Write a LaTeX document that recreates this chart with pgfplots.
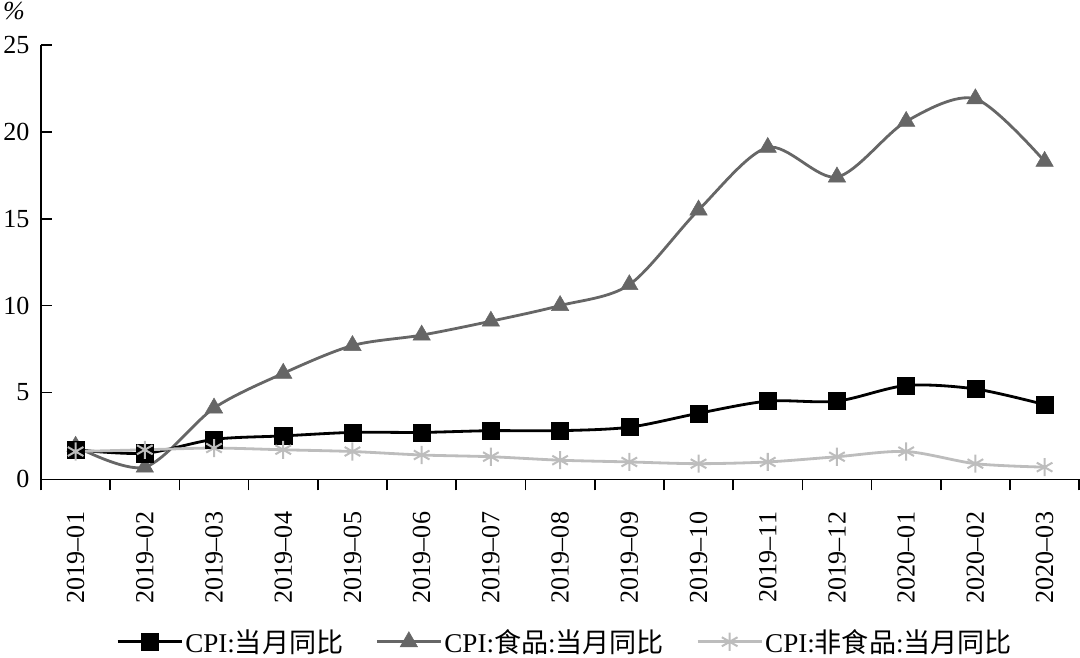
\documentclass[border=0pt]{standalone}
\usepackage{fontspec}
\setmainfont{Liberation Serif}
\newfontfamily\cjk{Noto Sans CJK SC}
\usepackage{pgfplots}
\pgfplotsset{compat=1.18}
\definecolor{foodc}{HTML}{666666}
\definecolor{nonc}{HTML}{BDBDBD}
\pgfplotsset{
 cpistyle/.style={black, line width=2.8pt, smooth, mark=square*, mark size=8.5pt, mark options={solid, line width=0.5pt, fill=black}},
 foodstyle/.style={foodc, line width=2.8pt, smooth, mark=triangle*, mark size=10pt, mark options={solid, line width=0.5pt, fill=foodc}},
 nonstyle/.style={nonc, line width=2.8pt, smooth, mark=asterisk, mark size=9pt, mark options={solid, line width=2pt}},
}
\begin{document}
\begin{tikzpicture}
\begin{axis}[
 scale only axis, width=1035pt, height=433pt,
 xmin=-0.5, xmax=14.5, ymin=0, ymax=25,
 axis x line*=bottom, axis y line*=left,
 axis line style={line width=1.6pt, -},
 xtick={-0.5,0.5,...,14.5},
 x tick label as interval,
 xticklabels={2019--01,2019--02,2019--03,2019--04,2019--05,2019--06,2019--07,2019--08,2019--09,2019--10,2019--11,2019--12,2020--01,2020--02,2020--03},
 ytick={0,5,10,15,20,25},
 xtick align=outside, ytick align=inside,
 major tick length=11pt,
 tick style={line width=1.6pt, black},
 xticklabel style={rotate=90, anchor=east, font=\fontsize{26}{30}\selectfont, xshift=-18pt},
 yticklabel style={font=\fontsize{26}{30}\selectfont, xshift=-8pt},
 /pgf/number format/assume math mode=true,
 legend style={at={(0.5,-0.374)}, anchor=center, xshift=5pt, draw=none, fill=none, font=\fontsize{27}{30}\selectfont, legend columns=3, /tikz/every even column/.append style={column sep=30pt}},
 legend image code/.code={\draw[mark repeat=2,mark phase=2] plot coordinates {(0pt,0pt) (32pt,0pt) (64pt,0pt)};},
 legend cell align=left,
 clip=false,
]
\addlegendimage{cpistyle}
\addlegendentry{CPI:{\cjk 当月同比}}
\addlegendimage{foodstyle}
\addlegendentry{CPI:{\cjk 食品}:{\cjk 当月同比}}
\addlegendimage{nonstyle}
\addlegendentry{CPI:{\cjk 非食品}:{\cjk 当月同比}}

\addplot[foodstyle, forget plot] coordinates {(0,1.9) (1,0.7) (2,4.1) (3,6.1) (4,7.7) (5,8.3) (6,9.1) (7,10.0) (8,11.2) (9,15.5) (10,19.1) (11,17.4) (12,20.6) (13,21.9) (14,18.3)};
\addplot[cpistyle, forget plot] coordinates {(0,1.7) (1,1.5) (2,2.3) (3,2.5) (4,2.7) (5,2.7) (6,2.8) (7,2.8) (8,3.0) (9,3.8) (10,4.5) (11,4.5) (12,5.4) (13,5.2) (14,4.3)};
\addplot[nonstyle, forget plot] coordinates {(0,1.6) (1,1.7) (2,1.8) (3,1.7) (4,1.6) (5,1.4) (6,1.3) (7,1.1) (8,1.0) (9,0.9) (10,1.0) (11,1.3) (12,1.6) (13,0.9) (14,0.7)};
\node[anchor=south, inner sep=2pt, font=\fontsize{26}{30}\selectfont\itshape, xshift=-27pt, yshift=23pt] at (rel axis cs:0,1) {\%};
\end{axis}
\end{tikzpicture}
\end{document}
